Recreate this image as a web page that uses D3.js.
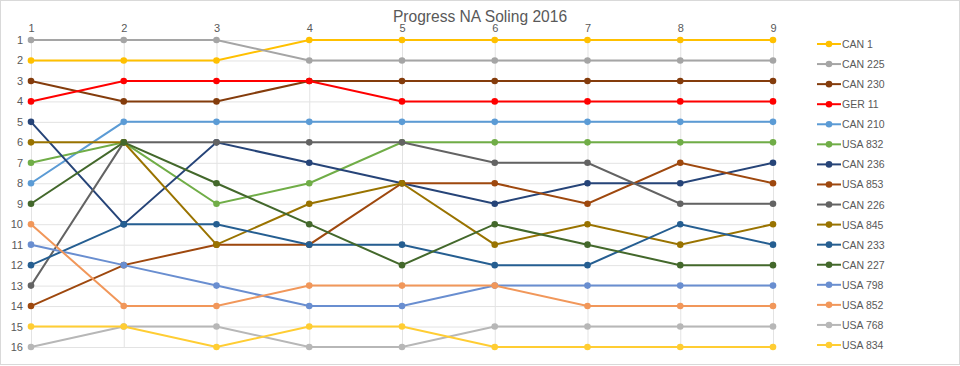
<!DOCTYPE html>
<html><head><meta charset="utf-8">
<script src="https://cdn.jsdelivr.net/npm/d3@7"></script>
<style>body{margin:0;background:#fff}svg{display:block}text{font-family:"Liberation Sans",Arial,sans-serif;fill:#595959}</style>
</head><body>
<svg id="c" width="960" height="366"></svg>
<script>
const races = [1,2,3,4,5,6,7,8,9];
const positions = [1,2,3,4,5,6,7,8,9,10,11,12,13,14,15,16];
const boats = ["CAN 1","CAN 225","CAN 230","GER 11","CAN 210","USA 832","CAN 236","USA 853","CAN 226","USA 845","CAN 233","CAN 227","USA 798","USA 852","USA 768","USA 834"];
const colors = ["#FFC000","#A5A5A5","#843C0C","#FF0000","#5B9BD5","#70AD47","#264478","#9E480E","#636363","#997300","#255E91","#43682B","#698ED0","#F1975A","#B7B7B7","#FFCD33"];
const CAN1   = [2,2,2,1,1,1,1,1,1];
const CAN225 = [1,1,1,2,2,2,2,2,2];
const CAN230 = [3,4,4,3,3,3,3,3,3];
const GER11  = [4,3,3,3,4,4,4,4,4];
const CAN210 = [8,5,5,5,5,5,5,5,5];
const USA832 = [7,6,9,8,6,6,6,6,6];
const CAN236 = [5,10,6,7,8,9,8,8,7];
const USA853 = [14,12,11,11,8,8,9,7,8];
const CAN226 = [13,6,6,6,6,7,7,9,9];
const USA845 = [6,6,11,9,8,11,10,11,10];
const CAN233 = [12,10,10,11,11,12,12,10,11];
const CAN227 = [9,6,8,10,12,10,11,12,12];
const USA798 = [11,12,13,14,14,13,13,13,13];
const USA852 = [10,14,14,13,13,13,14,14,14];
const USA768 = [16,15,15,16,16,15,15,15,15];
const USA834 = [15,15,16,15,15,16,16,16,16];
const series = [CAN1,CAN225,CAN230,GER11,CAN210,USA832,CAN236,USA853,CAN226,USA845,CAN233,CAN227,USA798,USA852,USA768,USA834];

const svg = d3.select("#c");
svg.append("rect").attr("x",0.5).attr("y",0.5).attr("width",959).attr("height",364)
  .attr("fill","#fff").attr("stroke","#d9d9d9");

const x = d3.scaleLinear().domain([1,9]).range([31,773]);
const y = d3.scaleLinear().domain([1,16]).range([40,347]);

// gridlines
svg.append("g").selectAll("line").data(positions).join("line")
  .attr("x1",31).attr("x2",773).attr("y1",d=>y(d)+0.5).attr("y2",d=>y(d)+0.5)
  .attr("stroke","#e3e3e3").attr("stroke-width",1);
svg.append("g").selectAll("line").data(races).join("line")
  .attr("y1",40).attr("y2",347).attr("x1",d=>x(d)+0.5).attr("x2",d=>x(d)+0.5)
  .attr("stroke","#e3e3e3").attr("stroke-width",1);

// axes
const xa = svg.append("g").attr("transform","translate(0,40)")
  .call(d3.axisTop(x).tickValues(races).tickFormat(d3.format("d")).tickSize(0).tickPadding(8));
const ya = svg.append("g").attr("transform","translate(31,0)")
  .call(d3.axisLeft(y).tickValues(positions).tickFormat(d3.format("d")).tickSize(0).tickPadding(8));
[xa,ya].forEach(a=>{a.select(".domain").remove();a.selectAll("text").attr("font-size",11).attr("fill","#595959").style("font-family","'Liberation Sans',Arial,sans-serif");});

// title
svg.append("text").attr("x",480).attr("y",22).attr("text-anchor","middle")
  .attr("font-size",15.6).text("Progress NA Soling 2016");

const line = d3.line().x((d,i)=>x(races[i])).y(d=>y(d));
const g = svg.append("g");
series.forEach((s,k)=>{
  const sg = g.append("g");
  sg.append("path").attr("d",line(s)).attr("fill","none").attr("stroke",colors[k]).attr("stroke-width",2);
  sg.selectAll("circle").data(s).join("circle")
    .attr("cx",(d,i)=>x(races[i])).attr("cy",d=>y(d)).attr("r",3.3).attr("fill",colors[k]);
});

// legend
const leg = svg.append("g");
const ly = d3.scaleLinear().domain([0,15]).range([44,345]);
boats.forEach((b,k)=>{
  const r = leg.append("g").attr("transform",`translate(0,${ly(k)})`);
  r.append("line").attr("x1",817).attr("x2",841).attr("stroke",colors[k]).attr("stroke-width",2);
  r.append("circle").attr("cx",829).attr("cy",0).attr("r",3.3).attr("fill",colors[k]);
  r.append("text").attr("x",842).attr("y",4).attr("font-size",10.5).text(b);
});
</script>
</body></html>
